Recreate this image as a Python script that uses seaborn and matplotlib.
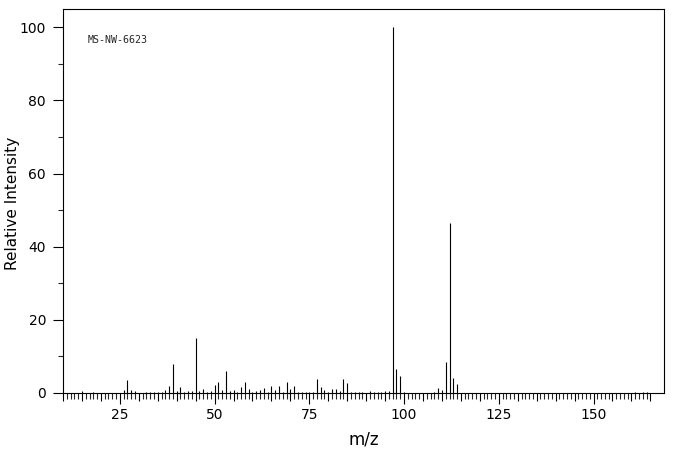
import numpy as np
import pandas as pd
import seaborn as sns
import matplotlib.pyplot as plt
from matplotlib.ticker import FixedLocator, FuncFormatter

# Peak list (m/z, relative intensity)
MZ = [15, 18, 26, 27, 28, 29, 32, 33, 34, 35, 36, 37, 38, 39, 40, 41, 42, 43, 44, 45,
      46, 47, 48, 49, 50, 51, 52, 53, 54, 55, 56, 57, 58, 59, 60, 61, 62, 63, 64, 65,
      66, 67, 68, 69, 70, 71, 72, 73, 74, 75, 76, 77, 78, 79, 80, 81, 82, 83, 84, 85,
      86, 87, 88, 89, 91, 92, 93, 94, 95, 96, 97, 98, 99, 100, 108, 109, 110, 111, 112,
      113, 114, 161, 163, 164]
INTENSITY = [0.5, 0.4, 0.9, 3.6, 0.9, 0.6, 0.3, 0.3, 0.3, 0.3, 0.3, 0.9, 2.0, 7.8, 0.6, 1.7, 0.3, 0.5, 0.6, 15.1,
             0.6, 1.1, 0.3, 0.6, 2.3, 3.1, 0.9, 6.1, 0.6, 0.9, 0.4, 1.7, 3.1, 1.1, 0.4, 0.6, 0.9, 1.5, 0.3, 2.0,
             0.9, 2.0, 0.4, 3.1, 1.2, 2.0, 0.3, 0.3, 0.3, 0.3, 0.3, 3.9, 1.7, 0.9, 0.3, 1.2, 1.2, 0.6, 3.9, 2.6,
             0.3, 0.3, 0.3, 0.3, 0.6, 0.3, 0.3, 0.3, 0.6, 0.6, 100.0, 6.6, 4.7, 0.3, 0.3, 1.4, 0.8, 8.5, 46.5,
             4.1, 2.5, 0.3, 0.3, 0.3]
SAMPLE_ID = "MS-NW-6623"
X_LABELS = [25, 50, 75, 100, 125, 150]
Y_LABELS = [0, 20, 40, 60, 80, 100]

df = pd.DataFrame({"mz": MZ, "intensity": INTENSITY})

sns.set_theme(style="ticks")
plt.rcParams['font.family'] = ['DejaVu Sans']

fig = plt.figure(figsize=(6.76, 4.55), dpi=100)
ax = fig.add_axes([63 / 676, 1 - 393 / 455, (664 - 63) / 676, (393 - 9) / 455])

ax.vlines(df["mz"], 0, df["intensity"], color="black", linewidth=0.8)

ax.set_xlim(10, 168.6)
ax.set_ylim(0, 105)

for s in ax.spines.values():
    s.set_color("black")
    s.set_linewidth(0.8)
    s.set_visible(True)

# x ticks: every unit, medium every 5, long every 25
ax.xaxis.set_major_locator(FixedLocator(np.arange(10, 166, 5)))
ax.xaxis.set_minor_locator(FixedLocator([v for v in range(10, 166) if v % 5]))
ax.xaxis.set_major_formatter(FuncFormatter(lambda v, p: f"{int(v)}" if int(v) in X_LABELS else ""))
ax.tick_params(axis="x", which="major", length=5.8, width=0.8, direction="out", pad=5,
               labelsize=10, colors="black")
ax.tick_params(axis="x", which="minor", length=4.3, width=0.8, direction="out")

ax.yaxis.set_major_locator(FixedLocator(Y_LABELS))
ax.yaxis.set_minor_locator(FixedLocator([10, 30, 50, 70, 90]))
ax.tick_params(axis="y", which="major", length=7.2, width=0.8, direction="out", pad=5,
               labelsize=10, colors="black")
ax.tick_params(axis="y", which="minor", length=3.6, width=0.8, direction="out")

fig.canvas.draw()
for t in ax.xaxis.get_major_ticks():
    if int(round(t.get_loc())) % 25 == 0:
        t.tick1line.set_markersize(8.0)

ax.set_xlabel("m/z", fontsize=12, labelpad=6, color="black")
ax.set_ylabel("Relative Intensity", fontsize=11, color="black")
ax.yaxis.set_label_coords(-0.071, 0.495)

ax.text(16.5, 96.4, SAMPLE_ID, fontsize=7.2, family="DejaVu Sans Mono", va="center", ha="left")

fig.savefig("out.png", dpi=100)
